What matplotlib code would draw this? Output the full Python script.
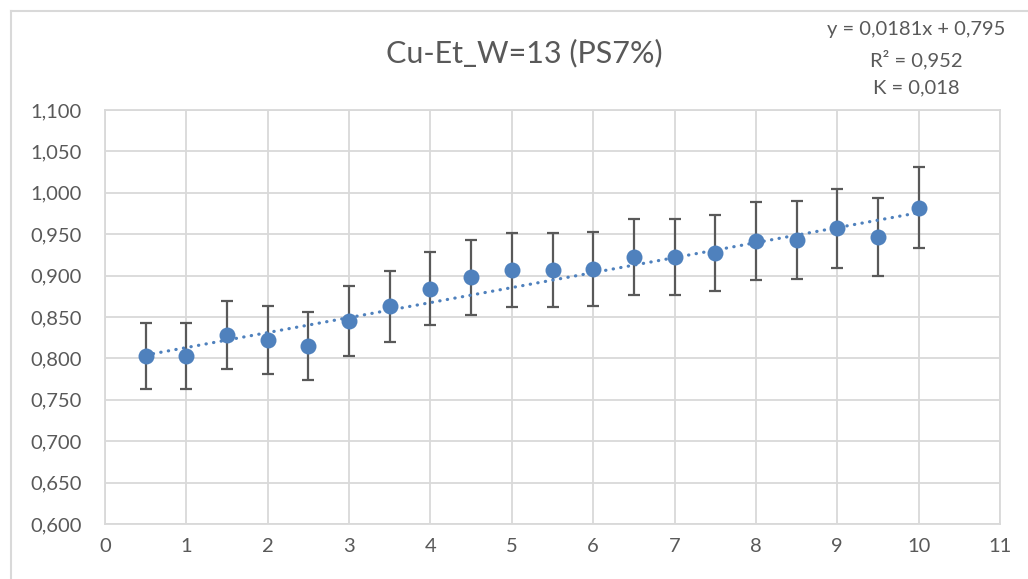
import matplotlib
matplotlib.use("Agg")
import matplotlib.pyplot as plt
from matplotlib.lines import Line2D
from matplotlib.ticker import FuncFormatter, MultipleLocator
import numpy as np

plt.rcParams['font.family'] = ['Lato', 'DejaVu Sans']

# Measurements
x_vals = [0.5, 1, 1.5, 2, 2.5, 3, 3.5, 4, 4.5, 5,
          5.5, 6, 6.5, 7, 7.5, 8, 8.5, 9, 9.5, 10]
y_vals = [0.803, 0.803, 0.828, 0.822, 0.815, 0.845, 0.863, 0.884, 0.898, 0.907,
          0.907, 0.908, 0.922, 0.922, 0.927, 0.942, 0.943, 0.957, 0.947, 0.982]
y_err = [0.040, 0.040, 0.041, 0.041, 0.041, 0.042, 0.043, 0.044, 0.045, 0.045,
         0.045, 0.045, 0.046, 0.046, 0.046, 0.047, 0.047, 0.048, 0.047, 0.049]

# Linear trend coefficients
slope = 0.0181
intercept = 0.795
r_squared = 0.952
k_value = 0.018

title = "Cu-Et_W=13 (PS7%)"

W, H = 1028, 579
fig = plt.figure(figsize=(W / 100, H / 100), dpi=100)
fig.patch.set_facecolor("white")

ax = fig.add_axes([105 / W, 1 - 524 / H, (1000 - 105) / W, (524 - 110) / H])

blue = "#4F81BD"
gray_text = "#595959"
grid_c = "#D9D9D9"

# error bars
ax.errorbar(x_vals, y_vals, yerr=y_err, fmt="none", ecolor="#595959",
            elinewidth=1.6, capsize=4.6, capthick=1.6, zorder=3)

# trend line
xt = np.array([x_vals[0], x_vals[-1]])
ax.plot(xt, slope * xt + intercept, color=blue, lw=2.3,
        linestyle=(0, (0.1, 2.3)), dash_capstyle="round", zorder=4)

# points
ax.plot(x_vals, y_vals, "o", color=blue, markersize=11.5, zorder=5,
        markeredgewidth=0)

ax.set_xlim(0, 11)
ax.set_ylim(0.6, 1.1)
ax.xaxis.set_major_locator(MultipleLocator(1))
ax.yaxis.set_major_locator(MultipleLocator(0.05))
ax.yaxis.set_major_formatter(FuncFormatter(lambda v, p: f"{v:.3f}".replace(".", ",")))
ax.xaxis.set_major_formatter(FuncFormatter(lambda v, p: f"{int(round(v))}"))

ax.grid(True, color=grid_c, lw=1.3)
ax.set_axisbelow(True)
for s in ax.spines.values():
    s.set_color(grid_c)
    s.set_linewidth(1.3)

ax.tick_params(axis="both", length=0, colors=gray_text, labelsize=14.5)
ax.tick_params(axis="y", pad=17)
ax.tick_params(axis="x", pad=10)

fig.text(524 / W, 1 - 53 / H, title, ha="center", va="center",
         fontsize=22, color=gray_text)

eq = f"y = {slope:.4f}x + {intercept:.3f}".replace(".", ",")
fig.text(916 / W, 1 - 30 / H, eq, ha="center", va="center", fontsize=14.5, color=gray_text)
fig.text(916 / W, 1 - 60 / H, f"R² = {r_squared:.3f}".replace(".", ","),
         ha="center", va="center", fontsize=14.5, color=gray_text)
fig.text(916 / W, 1 - 88 / H, f"K = {k_value:.3f}".replace(".", ","),
         ha="center", va="center", fontsize=14.5, color=gray_text)

# chart frame
fig.add_artist(Line2D([10.5 / W, 10.5 / W], [0, 1 - 10.5 / H], transform=fig.transFigure,
                      color="#D9D9D9", lw=1.5))
fig.add_artist(Line2D([10.5 / W, 1], [1 - 10.5 / H, 1 - 10.5 / H], transform=fig.transFigure,
                      color="#D9D9D9", lw=1.5))

fig.savefig("out.png", dpi=100, facecolor="white")
